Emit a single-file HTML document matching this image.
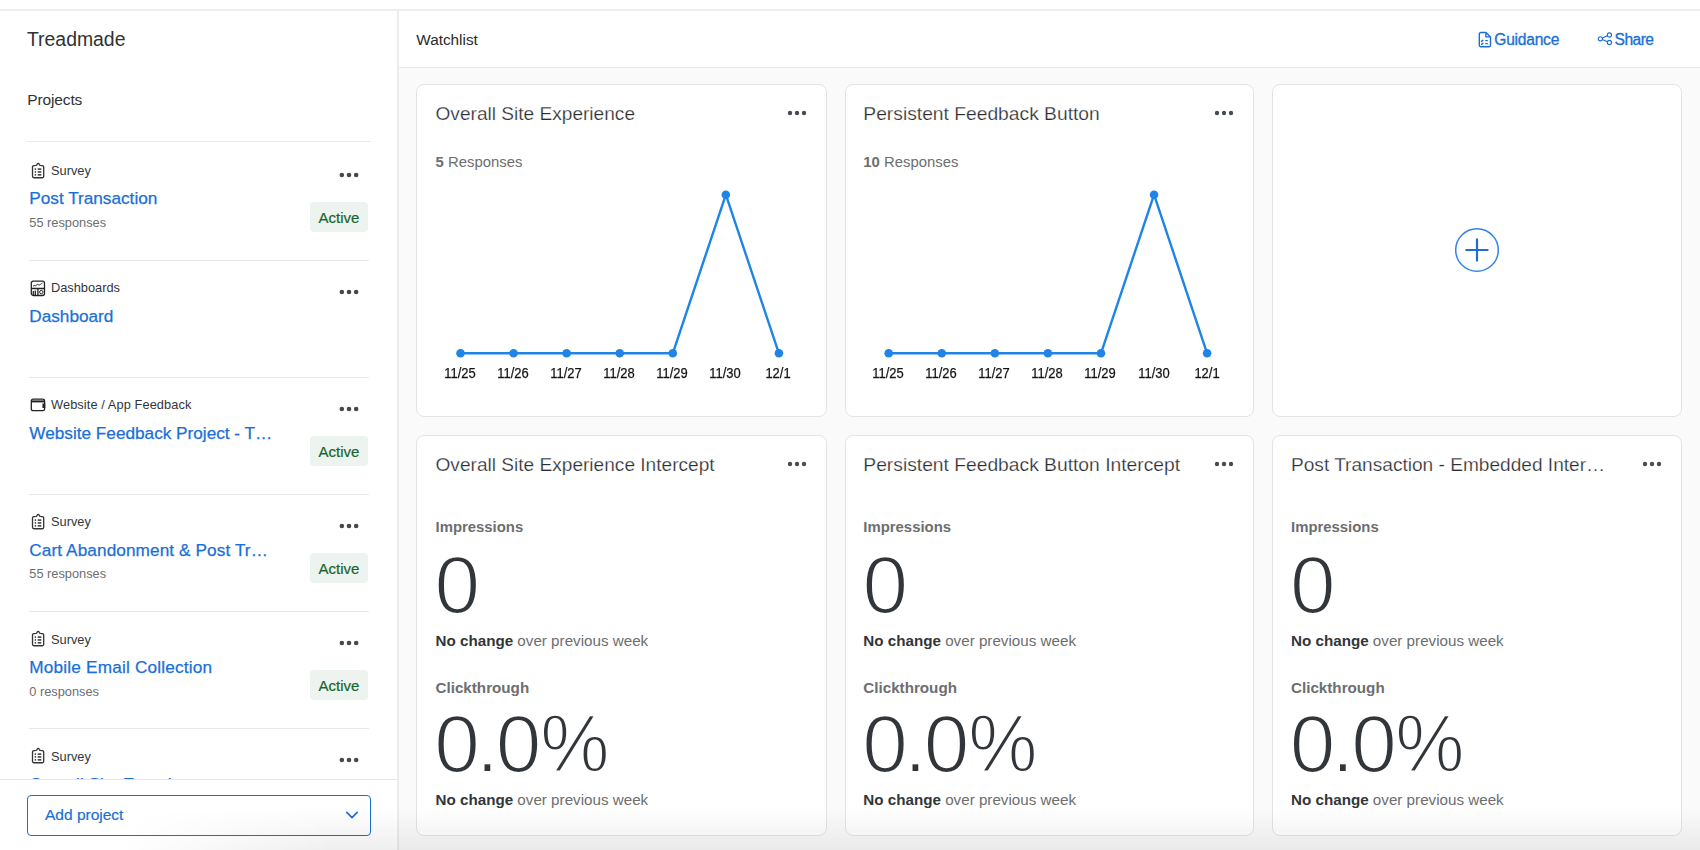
<!DOCTYPE html>
<html lang="en"><head><meta charset="utf-8"><title>Watchlist</title>
<style>
html,body{margin:0;padding:0;background:#fff;}
#root{position:relative;width:1700px;height:850px;overflow:hidden;background:#fff;font-family:"Liberation Sans", Arial, sans-serif;}
.t{position:absolute;white-space:nowrap;line-height:1;}
</style></head><body><div id="root">
<div style="position:absolute;left:0px;top:9px;width:1700px;height:2px;background:#eeeeee"></div>
<div style="position:absolute;left:397px;top:11px;width:2px;height:839px;background:#ececec"></div>
<div style="position:absolute;left:399px;top:66.5px;width:1301px;height:1.5px;background:#e9e9e9"></div>
<div style="position:absolute;left:399px;top:68px;width:1301px;height:782px;background:#fafafa"></div>
<div class="t" style="left:27.0px;top:29.78px;font-size:19.4px;color:#2e3236;font-weight:400;">Treadmade</div>
<div class="t" style="left:27.2px;top:91.58px;font-size:15.5px;color:#2e3236;font-weight:400;letter-spacing:-0.12px;">Projects</div>
<div style="position:absolute;left:27px;top:140.7px;width:344px;height:1px;background:#e9e9e9"></div>
<svg width="16" height="18" viewBox="0 0 16 18" style="position:absolute;left:29.5px;top:160.9px" fill="none" stroke="#333" stroke-width="1.3">
<path d="M5.2 4.65H3.9a1.4 1.4 0 0 0-1.4 1.4v9.3a1.4 1.4 0 0 0 1.4 1.4h8.4a1.4 1.4 0 0 0 1.4-1.4v-9.3a1.4 1.4 0 0 0-1.4-1.4h-1.3"/>
<path d="M5.2 4.9c0-.3.9-.4 1.3-.7.6-.4.6-1.9 1.7-1.9s1.1 1.5 1.7 1.9c.4.3 1.3.4 1.3.7"/>
<g fill="#333" stroke="none"><rect x="4.7" y="7.35" width="1.4" height="1.5"/><rect x="7.7" y="7.35" width="3.6" height="1.5"/>
<rect x="4.7" y="10.2" width="1.4" height="1.5"/><rect x="7.7" y="10.2" width="3.6" height="1.5"/>
<rect x="4.7" y="13.1" width="1.4" height="1.5"/><rect x="7.7" y="13.1" width="3.6" height="1.5"/></g>
</svg>
<div class="t" style="left:51.0px;top:165.16px;font-size:12.8px;color:#32363a;font-weight:400;">Survey</div>
<div class="t" style="left:29.3px;top:190.44px;font-size:17.2px;color:#1a6fd6;font-weight:400;-webkit-text-stroke:0.25px #1a6fd6;letter-spacing:0px;">Post Transaction</div>
<div class="t" style="left:29.3px;top:217.16px;font-size:12.8px;color:#6d6e6f;font-weight:400;">55 responses</div>
<svg width="30" height="10" style="position:absolute;left:333.6px;top:169.90px"><circle cx="7.85" cy="5.00" r="2.3" fill="#45484c"/><circle cx="15.00" cy="5.00" r="2.3" fill="#45484c"/><circle cx="22.15" cy="5.00" r="2.3" fill="#45484c"/></svg>
<div style="position:absolute;left:310.4px;top:201.8px;width:58px;height:30.3px;background:#edf3ef;border-radius:4px"></div>
<div class="t" style="left:318.6px;top:209.70px;font-size:15px;color:#15652e;font-weight:400;-webkit-text-stroke:0.2px #15652e;">Active</div>
<div style="position:absolute;left:29px;top:260.0px;width:340px;height:1px;background:#e9e9e9"></div>
<svg width="16" height="17" viewBox="0 0 16 17" style="position:absolute;left:29.5px;top:279.7px" fill="none" stroke="#222" stroke-width="1.3">
<rect x="1.3" y="1.2" width="13.2" height="14.3" rx="2"/>
<path d="M1.3 8.5h13.2M7.9 8.5v7"/>
<path d="M3.2 6.2c1-1.6 1.8-.2 2.6-.6s1.2-1.6 2.3-1 1.6.6 2.6-.4 1.2-.6 1.8-1" stroke-width="1"/>
<path d="M3.3 15.4V11M5.3 15.4V10.5" stroke-width="1.3"/>
<circle cx="11.3" cy="12.1" r="1.7" stroke-width="1"/>
</svg>
<div class="t" style="left:51.0px;top:282.26px;font-size:12.8px;color:#32363a;font-weight:400;">Dashboards</div>
<div class="t" style="left:29.3px;top:307.54px;font-size:17.2px;color:#1a6fd6;font-weight:400;-webkit-text-stroke:0.25px #1a6fd6;letter-spacing:0px;">Dashboard</div>
<svg width="30" height="10" style="position:absolute;left:333.6px;top:287.00px"><circle cx="7.85" cy="5.00" r="2.3" fill="#45484c"/><circle cx="15.00" cy="5.00" r="2.3" fill="#45484c"/><circle cx="22.15" cy="5.00" r="2.3" fill="#45484c"/></svg>
<div style="position:absolute;left:29px;top:377.1px;width:340px;height:1px;background:#e9e9e9"></div>
<svg width="16" height="14" viewBox="0 0 16 14" style="position:absolute;left:29.5px;top:397.79999999999995px" fill="none" stroke="#222" stroke-width="1.3">
<rect x="1.3" y="1.1" width="13.3" height="11.6" rx="1.8"/>
<path d="M1.3 3.4h13.3" stroke-width="2"/>
<path d="M14.6 6.2h-1.5v3.2h1.5z" fill="#222"/>
</svg>
<div class="t" style="left:51.0px;top:399.36px;font-size:12.8px;color:#32363a;font-weight:400;letter-spacing:0.09px;">Website / App Feedback</div>
<div class="t" style="left:29.3px;top:424.64px;font-size:17.2px;color:#1a6fd6;font-weight:400;-webkit-text-stroke:0.25px #1a6fd6;letter-spacing:0px;">Website Feedback Project - T…</div>
<svg width="30" height="10" style="position:absolute;left:333.6px;top:404.10px"><circle cx="7.85" cy="5.00" r="2.3" fill="#45484c"/><circle cx="15.00" cy="5.00" r="2.3" fill="#45484c"/><circle cx="22.15" cy="5.00" r="2.3" fill="#45484c"/></svg>
<div style="position:absolute;left:310.4px;top:436.0px;width:58px;height:30.3px;background:#edf3ef;border-radius:4px"></div>
<div class="t" style="left:318.6px;top:443.90px;font-size:15px;color:#15652e;font-weight:400;-webkit-text-stroke:0.2px #15652e;">Active</div>
<div style="position:absolute;left:29px;top:494.2px;width:340px;height:1px;background:#e9e9e9"></div>
<svg width="16" height="18" viewBox="0 0 16 18" style="position:absolute;left:29.5px;top:512.1999999999999px" fill="none" stroke="#333" stroke-width="1.3">
<path d="M5.2 4.65H3.9a1.4 1.4 0 0 0-1.4 1.4v9.3a1.4 1.4 0 0 0 1.4 1.4h8.4a1.4 1.4 0 0 0 1.4-1.4v-9.3a1.4 1.4 0 0 0-1.4-1.4h-1.3"/>
<path d="M5.2 4.9c0-.3.9-.4 1.3-.7.6-.4.6-1.9 1.7-1.9s1.1 1.5 1.7 1.9c.4.3 1.3.4 1.3.7"/>
<g fill="#333" stroke="none"><rect x="4.7" y="7.35" width="1.4" height="1.5"/><rect x="7.7" y="7.35" width="3.6" height="1.5"/>
<rect x="4.7" y="10.2" width="1.4" height="1.5"/><rect x="7.7" y="10.2" width="3.6" height="1.5"/>
<rect x="4.7" y="13.1" width="1.4" height="1.5"/><rect x="7.7" y="13.1" width="3.6" height="1.5"/></g>
</svg>
<div class="t" style="left:51.0px;top:516.46px;font-size:12.8px;color:#32363a;font-weight:400;">Survey</div>
<div class="t" style="left:29.3px;top:541.74px;font-size:17.2px;color:#1a6fd6;font-weight:400;-webkit-text-stroke:0.25px #1a6fd6;letter-spacing:0.1px;">Cart Abandonment &amp; Post Tr…</div>
<div class="t" style="left:29.3px;top:568.46px;font-size:12.8px;color:#6d6e6f;font-weight:400;">55 responses</div>
<svg width="30" height="10" style="position:absolute;left:333.6px;top:521.20px"><circle cx="7.85" cy="5.00" r="2.3" fill="#45484c"/><circle cx="15.00" cy="5.00" r="2.3" fill="#45484c"/><circle cx="22.15" cy="5.00" r="2.3" fill="#45484c"/></svg>
<div style="position:absolute;left:310.4px;top:553.1px;width:58px;height:30.3px;background:#edf3ef;border-radius:4px"></div>
<div class="t" style="left:318.6px;top:561.00px;font-size:15px;color:#15652e;font-weight:400;-webkit-text-stroke:0.2px #15652e;">Active</div>
<div style="position:absolute;left:29px;top:611.3px;width:340px;height:1px;background:#e9e9e9"></div>
<svg width="16" height="18" viewBox="0 0 16 18" style="position:absolute;left:29.5px;top:629.3px" fill="none" stroke="#333" stroke-width="1.3">
<path d="M5.2 4.65H3.9a1.4 1.4 0 0 0-1.4 1.4v9.3a1.4 1.4 0 0 0 1.4 1.4h8.4a1.4 1.4 0 0 0 1.4-1.4v-9.3a1.4 1.4 0 0 0-1.4-1.4h-1.3"/>
<path d="M5.2 4.9c0-.3.9-.4 1.3-.7.6-.4.6-1.9 1.7-1.9s1.1 1.5 1.7 1.9c.4.3 1.3.4 1.3.7"/>
<g fill="#333" stroke="none"><rect x="4.7" y="7.35" width="1.4" height="1.5"/><rect x="7.7" y="7.35" width="3.6" height="1.5"/>
<rect x="4.7" y="10.2" width="1.4" height="1.5"/><rect x="7.7" y="10.2" width="3.6" height="1.5"/>
<rect x="4.7" y="13.1" width="1.4" height="1.5"/><rect x="7.7" y="13.1" width="3.6" height="1.5"/></g>
</svg>
<div class="t" style="left:51.0px;top:633.56px;font-size:12.8px;color:#32363a;font-weight:400;">Survey</div>
<div class="t" style="left:29.3px;top:658.84px;font-size:17.2px;color:#1a6fd6;font-weight:400;-webkit-text-stroke:0.25px #1a6fd6;letter-spacing:0.19px;">Mobile Email Collection</div>
<div class="t" style="left:29.3px;top:685.56px;font-size:12.8px;color:#6d6e6f;font-weight:400;">0 responses</div>
<svg width="30" height="10" style="position:absolute;left:333.6px;top:638.30px"><circle cx="7.85" cy="5.00" r="2.3" fill="#45484c"/><circle cx="15.00" cy="5.00" r="2.3" fill="#45484c"/><circle cx="22.15" cy="5.00" r="2.3" fill="#45484c"/></svg>
<div style="position:absolute;left:310.4px;top:670.2px;width:58px;height:30.3px;background:#edf3ef;border-radius:4px"></div>
<div class="t" style="left:318.6px;top:678.10px;font-size:15px;color:#15652e;font-weight:400;-webkit-text-stroke:0.2px #15652e;">Active</div>
<div style="position:absolute;left:29px;top:728.4px;width:340px;height:1px;background:#e9e9e9"></div>
<svg width="16" height="18" viewBox="0 0 16 18" style="position:absolute;left:29.5px;top:746.4px" fill="none" stroke="#333" stroke-width="1.3">
<path d="M5.2 4.65H3.9a1.4 1.4 0 0 0-1.4 1.4v9.3a1.4 1.4 0 0 0 1.4 1.4h8.4a1.4 1.4 0 0 0 1.4-1.4v-9.3a1.4 1.4 0 0 0-1.4-1.4h-1.3"/>
<path d="M5.2 4.9c0-.3.9-.4 1.3-.7.6-.4.6-1.9 1.7-1.9s1.1 1.5 1.7 1.9c.4.3 1.3.4 1.3.7"/>
<g fill="#333" stroke="none"><rect x="4.7" y="7.35" width="1.4" height="1.5"/><rect x="7.7" y="7.35" width="3.6" height="1.5"/>
<rect x="4.7" y="10.2" width="1.4" height="1.5"/><rect x="7.7" y="10.2" width="3.6" height="1.5"/>
<rect x="4.7" y="13.1" width="1.4" height="1.5"/><rect x="7.7" y="13.1" width="3.6" height="1.5"/></g>
</svg>
<div class="t" style="left:51.0px;top:750.66px;font-size:12.8px;color:#32363a;font-weight:400;">Survey</div>
<div class="t" style="left:29.3px;top:775.94px;font-size:17.2px;color:#1a6fd6;font-weight:400;-webkit-text-stroke:0.25px #1a6fd6;letter-spacing:0px;">Overall Site Experience</div>
<svg width="30" height="10" style="position:absolute;left:333.6px;top:755.40px"><circle cx="7.85" cy="5.00" r="2.3" fill="#45484c"/><circle cx="15.00" cy="5.00" r="2.3" fill="#45484c"/><circle cx="22.15" cy="5.00" r="2.3" fill="#45484c"/></svg>
<div style="position:absolute;left:29px;top:845.5px;width:340px;height:1px;background:#e9e9e9"></div>
<div style="position:absolute;left:0px;top:779px;width:397px;height:71px;background:#fff;border-top:1px solid #e6e6e6;box-sizing:border-box"></div>
<div style="position:absolute;left:26.5px;top:794.5px;width:344px;height:41px;border:1.5px solid #1a6fd6;border-radius:4px;box-sizing:border-box;background:#fff"></div>
<div class="t" style="left:45.0px;top:806.68px;font-size:15.5px;color:#1a6fd6;font-weight:400;-webkit-text-stroke:0.2px #1a6fd6;">Add project</div>
<svg width="14" height="10" style="position:absolute;left:344.5px;top:809.5px"><path d="M1.8 2.4l5.2 5.2 5.2-5.2" fill="none" stroke="#1a6fd6" stroke-width="1.7" stroke-linecap="round" stroke-linejoin="round"/></svg>
<div class="t" style="left:416.3px;top:31.75px;font-size:15.3px;color:#2b2b2b;font-weight:400;">Watchlist</div>
<svg width="14" height="17" viewBox="0 0 14 17" style="position:absolute;left:1478.2px;top:31px" fill="none" stroke="#1a6fd6" stroke-width="1.4" stroke-linejoin="round">
<path d="M2.8 1.5h5.2l4.5 4.6v8.2a1.5 1.5 0 0 1-1.5 1.5H2.8a1.5 1.5 0 0 1-1.5-1.5V3a1.5 1.5 0 0 1 1.5-1.5z"/>
<path d="M7.9 1.7v4.2h4.3"/>
<path d="M3.6 10.4l1.3-1.1M3.6 13.3l1.3-1.1" stroke-linecap="round"/>
<path d="M7.3 9.7h2.5M7.3 12.6h2.5" stroke-width="1.2"/>
</svg>
<div class="t" style="left:1494.3px;top:31.69px;font-size:15.6px;color:#1a6fd6;font-weight:400;letter-spacing:-0.25px;-webkit-text-stroke:0.3px #1a6fd6;">Guidance</div>
<svg width="16" height="14" viewBox="0 0 16 14" style="position:absolute;left:1597px;top:32px" fill="none" stroke="#1a6fd6" stroke-width="1.1">
<circle cx="3.4" cy="6.8" r="2.1"/><circle cx="12.4" cy="3" r="2.1"/><circle cx="12.4" cy="10.5" r="2.1"/>
<path d="M5.4 6l5-2.2M5.4 7.6l5 2.1"/>
</svg>
<div class="t" style="left:1614.6px;top:31.69px;font-size:15.6px;color:#1a6fd6;font-weight:400;letter-spacing:-0.55px;-webkit-text-stroke:0.3px #1a6fd6;">Share</div>
<div style="position:absolute;left:416px;top:84px;width:411px;height:333px;background:#fff;border:1px solid #e4e4e4;border-radius:8px;box-sizing:border-box"></div>
<div style="position:absolute;left:416px;top:435px;width:411px;height:401px;background:#fff;border:1px solid #e4e4e4;border-radius:8px;box-sizing:border-box"></div>
<div style="position:absolute;left:845px;top:84px;width:409px;height:333px;background:#fff;border:1px solid #e4e4e4;border-radius:8px;box-sizing:border-box"></div>
<div style="position:absolute;left:845px;top:435px;width:409px;height:401px;background:#fff;border:1px solid #e4e4e4;border-radius:8px;box-sizing:border-box"></div>
<div style="position:absolute;left:1272px;top:84px;width:410px;height:333px;background:#fff;border:1px solid #e4e4e4;border-radius:8px;box-sizing:border-box"></div>
<div style="position:absolute;left:1272px;top:435px;width:410px;height:401px;background:#fff;border:1px solid #e4e4e4;border-radius:8px;box-sizing:border-box"></div>
<div class="t" style="left:435.5px;top:103.83px;font-size:19.1px;color:#2a2d31;font-weight:400;-webkit-text-stroke:0.25px #fff;">Overall Site Experience</div>
<svg width="30" height="10" style="position:absolute;left:781.80px;top:108.40px"><circle cx="8.00" cy="5.00" r="2.2" fill="#474b52"/><circle cx="15.00" cy="5.00" r="2.2" fill="#474b52"/><circle cx="22.00" cy="5.00" r="2.2" fill="#474b52"/></svg>
<div class="t" style="left:435.5px;top:154.69px;font-size:14.9px;color:#6d6e6f;font-weight:400;"><b style="font-weight:700">5</b> Responses</div>
<svg width="1700" height="850" style="position:absolute;left:0;top:0;overflow:visible" ><polyline points="460.50,353.30 513.57,353.30 566.64,353.30 619.71,353.30 672.78,353.30 725.85,194.70 778.92,353.30" fill="none" stroke="#2084e5" stroke-width="2.4" stroke-linejoin="round"/><circle cx="460.50" cy="353.30" r="4.3" fill="#2084e5"/><circle cx="513.57" cy="353.30" r="4.3" fill="#2084e5"/><circle cx="566.64" cy="353.30" r="4.3" fill="#2084e5"/><circle cx="619.71" cy="353.30" r="4.3" fill="#2084e5"/><circle cx="672.78" cy="353.30" r="4.3" fill="#2084e5"/><circle cx="725.85" cy="194.70" r="4.3" fill="#2084e5"/><circle cx="778.92" cy="353.30" r="4.3" fill="#2084e5"/></svg>
<div class="t" style="left:420.00px;width:80px;text-align:center;top:366.35px;font-size:14px;color:#151515;-webkit-text-stroke:0.25px #151515;transform:scaleX(0.925)">11/25</div>
<div class="t" style="left:473.07px;width:80px;text-align:center;top:366.35px;font-size:14px;color:#151515;-webkit-text-stroke:0.25px #151515;transform:scaleX(0.925)">11/26</div>
<div class="t" style="left:526.14px;width:80px;text-align:center;top:366.35px;font-size:14px;color:#151515;-webkit-text-stroke:0.25px #151515;transform:scaleX(0.925)">11/27</div>
<div class="t" style="left:579.21px;width:80px;text-align:center;top:366.35px;font-size:14px;color:#151515;-webkit-text-stroke:0.25px #151515;transform:scaleX(0.925)">11/28</div>
<div class="t" style="left:632.28px;width:80px;text-align:center;top:366.35px;font-size:14px;color:#151515;-webkit-text-stroke:0.25px #151515;transform:scaleX(0.925)">11/29</div>
<div class="t" style="left:685.35px;width:80px;text-align:center;top:366.35px;font-size:14px;color:#151515;-webkit-text-stroke:0.25px #151515;transform:scaleX(0.925)">11/30</div>
<div class="t" style="left:738.42px;width:80px;text-align:center;top:366.35px;font-size:14px;color:#151515;-webkit-text-stroke:0.25px #151515;transform:scaleX(0.925)">12/1</div>
<div class="t" style="left:863.3px;top:103.70px;font-size:19.25px;color:#2a2d31;font-weight:400;-webkit-text-stroke:0.25px #fff;">Persistent Feedback Button</div>
<svg width="30" height="10" style="position:absolute;left:1208.90px;top:108.40px"><circle cx="8.00" cy="5.00" r="2.2" fill="#474b52"/><circle cx="15.00" cy="5.00" r="2.2" fill="#474b52"/><circle cx="22.00" cy="5.00" r="2.2" fill="#474b52"/></svg>
<div class="t" style="left:863.3px;top:154.69px;font-size:14.9px;color:#6d6e6f;font-weight:400;"><b style="font-weight:700">10</b> Responses</div>
<svg width="1700" height="850" style="position:absolute;left:0;top:0;overflow:visible" ><polyline points="888.70,353.30 941.77,353.30 994.84,353.30 1047.91,353.30 1100.98,353.30 1154.05,194.70 1207.12,353.30" fill="none" stroke="#2084e5" stroke-width="2.4" stroke-linejoin="round"/><circle cx="888.70" cy="353.30" r="4.3" fill="#2084e5"/><circle cx="941.77" cy="353.30" r="4.3" fill="#2084e5"/><circle cx="994.84" cy="353.30" r="4.3" fill="#2084e5"/><circle cx="1047.91" cy="353.30" r="4.3" fill="#2084e5"/><circle cx="1100.98" cy="353.30" r="4.3" fill="#2084e5"/><circle cx="1154.05" cy="194.70" r="4.3" fill="#2084e5"/><circle cx="1207.12" cy="353.30" r="4.3" fill="#2084e5"/></svg>
<div class="t" style="left:848.20px;width:80px;text-align:center;top:366.35px;font-size:14px;color:#151515;-webkit-text-stroke:0.25px #151515;transform:scaleX(0.925)">11/25</div>
<div class="t" style="left:901.27px;width:80px;text-align:center;top:366.35px;font-size:14px;color:#151515;-webkit-text-stroke:0.25px #151515;transform:scaleX(0.925)">11/26</div>
<div class="t" style="left:954.34px;width:80px;text-align:center;top:366.35px;font-size:14px;color:#151515;-webkit-text-stroke:0.25px #151515;transform:scaleX(0.925)">11/27</div>
<div class="t" style="left:1007.41px;width:80px;text-align:center;top:366.35px;font-size:14px;color:#151515;-webkit-text-stroke:0.25px #151515;transform:scaleX(0.925)">11/28</div>
<div class="t" style="left:1060.48px;width:80px;text-align:center;top:366.35px;font-size:14px;color:#151515;-webkit-text-stroke:0.25px #151515;transform:scaleX(0.925)">11/29</div>
<div class="t" style="left:1113.55px;width:80px;text-align:center;top:366.35px;font-size:14px;color:#151515;-webkit-text-stroke:0.25px #151515;transform:scaleX(0.925)">11/30</div>
<div class="t" style="left:1166.62px;width:80px;text-align:center;top:366.35px;font-size:14px;color:#151515;-webkit-text-stroke:0.25px #151515;transform:scaleX(0.925)">12/1</div>
<svg width="50" height="50" style="position:absolute;left:1452.3px;top:225.2px" fill="none">
<circle cx="25" cy="25" r="21.3" stroke="#3584e4" stroke-width="1.5"/>
<path d="M25 14.4v21.2M14.4 25h21.2" stroke="#1a6fd6" stroke-width="2.2" stroke-linecap="round"/>
</svg>
<div class="t" style="left:435.5px;top:454.73px;font-size:19.1px;color:#2a2d31;font-weight:400;-webkit-text-stroke:0.25px #fff;">Overall Site Experience Intercept</div>
<svg width="30" height="10" style="position:absolute;left:781.80px;top:459.40px"><circle cx="8.00" cy="5.00" r="2.2" fill="#474b52"/><circle cx="15.00" cy="5.00" r="2.2" fill="#474b52"/><circle cx="22.00" cy="5.00" r="2.2" fill="#474b52"/></svg>
<div class="t" style="left:435.5px;top:520.29px;font-size:14.9px;color:#6d6e6f;font-weight:700;">Impressions</div>
<div class="t" style="left:434.4px;top:543.59px;font-size:82px;color:#32363a;font-weight:400;-webkit-text-stroke:2px #fff;">0</div>
<div class="t" style="left:435.5px;top:633.03px;font-size:15.2px;color:#6d6e6f;font-weight:400;"><b style="color:#32363a">No change</b> over previous week</div>
<div class="t" style="left:435.5px;top:679.73px;font-size:15.2px;color:#6d6e6f;font-weight:700;">Clickthrough</div>
<div class="t" style="left:434.2px;top:702.89px;font-size:82px;color:#32363a;font-weight:400;-webkit-text-stroke:2px #fff;">0</div>
<div class="t" style="left:476.1px;top:702.89px;font-size:82px;color:#32363a;font-weight:400;-webkit-text-stroke:2px #fff;">.</div>
<div class="t" style="left:495.7px;top:702.89px;font-size:82px;color:#32363a;font-weight:400;-webkit-text-stroke:2px #fff;">0</div>
<div class="t" style="left:539.7px;top:702.89px;font-size:82px;color:#32363a;font-weight:400;-webkit-text-stroke:2px #fff;transform:scaleX(0.95);transform-origin:2.9px 0;">%</div>
<div class="t" style="left:435.5px;top:792.13px;font-size:15.2px;color:#6d6e6f;font-weight:400;"><b style="color:#32363a">No change</b> over previous week</div>
<div class="t" style="left:863.3px;top:454.60px;font-size:19.25px;color:#2a2d31;font-weight:400;-webkit-text-stroke:0.25px #fff;">Persistent Feedback Button Intercept</div>
<svg width="30" height="10" style="position:absolute;left:1208.90px;top:459.40px"><circle cx="8.00" cy="5.00" r="2.2" fill="#474b52"/><circle cx="15.00" cy="5.00" r="2.2" fill="#474b52"/><circle cx="22.00" cy="5.00" r="2.2" fill="#474b52"/></svg>
<div class="t" style="left:863.3px;top:520.29px;font-size:14.9px;color:#6d6e6f;font-weight:700;">Impressions</div>
<div class="t" style="left:862.4px;top:543.59px;font-size:82px;color:#32363a;font-weight:400;-webkit-text-stroke:2px #fff;">0</div>
<div class="t" style="left:863.3px;top:633.03px;font-size:15.2px;color:#6d6e6f;font-weight:400;"><b style="color:#32363a">No change</b> over previous week</div>
<div class="t" style="left:863.3px;top:679.73px;font-size:15.2px;color:#6d6e6f;font-weight:700;">Clickthrough</div>
<div class="t" style="left:862.2px;top:702.89px;font-size:82px;color:#32363a;font-weight:400;-webkit-text-stroke:2px #fff;">0</div>
<div class="t" style="left:904.1px;top:702.89px;font-size:82px;color:#32363a;font-weight:400;-webkit-text-stroke:2px #fff;">.</div>
<div class="t" style="left:923.7px;top:702.89px;font-size:82px;color:#32363a;font-weight:400;-webkit-text-stroke:2px #fff;">0</div>
<div class="t" style="left:967.7px;top:702.89px;font-size:82px;color:#32363a;font-weight:400;-webkit-text-stroke:2px #fff;transform:scaleX(0.95);transform-origin:2.9px 0;">%</div>
<div class="t" style="left:863.3px;top:792.13px;font-size:15.2px;color:#6d6e6f;font-weight:400;"><b style="color:#32363a">No change</b> over previous week</div>
<div class="t" style="left:1291.0px;top:454.73px;font-size:19.1px;color:#2a2d31;font-weight:400;-webkit-text-stroke:0.25px #fff;">Post Transaction - Embedded Inter…</div>
<svg width="30" height="10" style="position:absolute;left:1637.00px;top:459.40px"><circle cx="8.00" cy="5.00" r="2.2" fill="#474b52"/><circle cx="15.00" cy="5.00" r="2.2" fill="#474b52"/><circle cx="22.00" cy="5.00" r="2.2" fill="#474b52"/></svg>
<div class="t" style="left:1291.0px;top:520.29px;font-size:14.9px;color:#6d6e6f;font-weight:700;">Impressions</div>
<div class="t" style="left:1289.9px;top:543.59px;font-size:82px;color:#32363a;font-weight:400;-webkit-text-stroke:2px #fff;">0</div>
<div class="t" style="left:1291.0px;top:633.03px;font-size:15.2px;color:#6d6e6f;font-weight:400;"><b style="color:#32363a">No change</b> over previous week</div>
<div class="t" style="left:1291.0px;top:679.73px;font-size:15.2px;color:#6d6e6f;font-weight:700;">Clickthrough</div>
<div class="t" style="left:1289.7px;top:702.89px;font-size:82px;color:#32363a;font-weight:400;-webkit-text-stroke:2px #fff;">0</div>
<div class="t" style="left:1331.6px;top:702.89px;font-size:82px;color:#32363a;font-weight:400;-webkit-text-stroke:2px #fff;">.</div>
<div class="t" style="left:1351.2px;top:702.89px;font-size:82px;color:#32363a;font-weight:400;-webkit-text-stroke:2px #fff;">0</div>
<div class="t" style="left:1395.2px;top:702.89px;font-size:82px;color:#32363a;font-weight:400;-webkit-text-stroke:2px #fff;transform:scaleX(0.95);transform-origin:2.9px 0;">%</div>
<div class="t" style="left:1291.0px;top:792.13px;font-size:15.2px;color:#6d6e6f;font-weight:400;"><b style="color:#32363a">No change</b> over previous week</div>
<div style="position:absolute;left:0;top:808px;width:1700px;height:42px;pointer-events:none;background:linear-gradient(to bottom,rgba(0,0,0,0),rgba(0,0,0,.062));-webkit-mask-image:linear-gradient(to right,transparent 120px,#000 330px);mask-image:linear-gradient(to right,transparent 120px,#000 330px)"></div>
</div></body></html>
